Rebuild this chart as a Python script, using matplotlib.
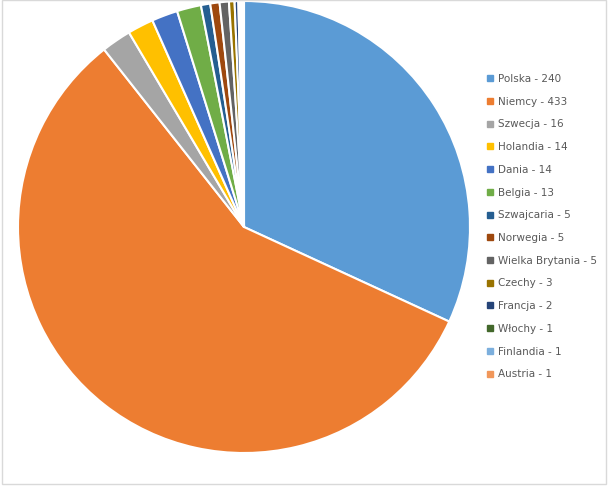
import matplotlib
matplotlib.use("Agg")
import matplotlib.pyplot as plt
from matplotlib.lines import Line2D
from matplotlib.patches import Rectangle

countries = ["Polska", "Niemcy", "Szwecja", "Holandia", "Dania", "Belgia", "Szwajcaria",
             "Norwegia", "Wielka Brytania", "Czechy", "Francja", "Włochy", "Finlandia", "Austria"]
values = [240, 433, 16, 14, 14, 13, 5, 5, 5, 3, 2, 1, 1, 1]
colors = ["#5B9BD5", "#ED7D31", "#A5A5A5", "#FFC000", "#4472C4", "#70AD47", "#255E91",
          "#9E480E", "#636363", "#997300", "#264478", "#43682B", "#7CAFDD", "#F1975A"]
labels = [f"{c} - {v}" for c, v in zip(countries, values)]

W, H = 609, 487
fig = plt.figure(figsize=(W / 100, H / 100), dpi=100)
fig.patches.append(Rectangle((2 / W, 3 / H), 604 / W, (H - 3) / H, transform=fig.transFigure,
                             fill=False, edgecolor="#D9D9D9", linewidth=1))

cx, cy, r = 244, 227, 226
ax = fig.add_axes([(cx - r) / W, (H - cy - r) / H, 2 * r / W, 2 * r / H])
ax.pie(values, colors=colors, startangle=90, counterclock=False,
       wedgeprops=dict(edgecolor="white", linewidth=1.5))
ax.set_xlim(-1, 1)
ax.set_ylim(-1, 1)
ax.set_aspect("equal")

handles = [Line2D([], [], marker="s", ls="", color=c, markersize=4.5) for c in colors]
leg = fig.legend(handles, labels, loc="upper left", bbox_to_anchor=(486 / W, 1 - 74 / H),
                 frameon=False, fontsize=7.5, labelcolor="#595959", handlelength=0.8,
                 handletextpad=0.4, labelspacing=1.22, borderaxespad=0, borderpad=0)

fig.savefig("out.png", dpi=100)
